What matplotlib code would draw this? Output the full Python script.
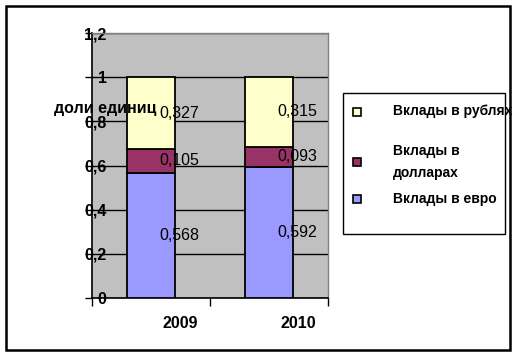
import matplotlib
matplotlib.use("Agg")
import matplotlib.pyplot as plt
from matplotlib.patches import Rectangle
import numpy as np

years = ["2009", "2010"]
series_names = ["Вклады в евро", "Вклады в\nдолларах", "Вклады в рублях"]
euro = [0.568, 0.592]
dollars = [0.105, 0.093]
rubles = [0.327, 0.315]
series_colors = ["#9999FF", "#993366", "#FFFFCC"]
ytick_vals = [0, 0.2, 0.4, 0.6, 0.8, 1.0, 1.2]
ytick_labels = ["0", "0,2", "0,4", "0,6", "0,8", "1", "1,2"]

W, H = 530, 356
plt.rcParams['font.family'] = ['Liberation Sans', 'DejaVu Sans']
fig = plt.figure(figsize=(W / 100, H / 100), dpi=100)
fig.patch.set_facecolor("white")

def fx(px):
    return px / W

def fy(py):
    return 1 - py / H

ax = fig.add_axes([fx(92), fy(298), fx(328) - fx(92), fy(33) - fy(298)])
ax.set_facecolor("#C0C0C0")
x = np.arange(len(years))
width = 0.41

bottoms = np.zeros(len(years))
all_series = [euro, dollars, rubles]
for vals, col in zip(all_series, series_colors):
    vals = np.array(vals)
    ax.bar(x, vals, width, bottom=bottoms, color=col, edgecolor="black",
           linewidth=1.3, zorder=3)
    for xi, b, v in zip(x, bottoms, vals):
        ax.text(xi + 0.24, b + v / 2, f"{v:.3f}".replace(".", ","),
                ha="center", va="center", fontsize=11.5, zorder=5)
    bottoms = bottoms + vals

ax.set_xlim(-0.5, 1.5)
ax.set_ylim(0, 1.2)
ax.set_yticks(ytick_vals)
ax.set_yticklabels(ytick_labels, fontsize=11.5, fontweight="bold")
ax.yaxis.grid(True, color="black", linewidth=1, zorder=1)
ax.set_axisbelow(True)
ax.tick_params(axis="y", length=5, width=1, pad=-15.5, direction="out")
for lbl in ax.get_yticklabels():
    lbl.set_horizontalalignment("right")

ax.set_xticks([-0.5, 0.5, 1.5])
ax.set_xticklabels(["", "", ""])
ax.set_xticks(x + 0.25, minor=True)
ax.set_xticklabels(years, minor=True, fontsize=11.5, fontweight="bold")
ax.tick_params(axis="x", which="major", length=6, width=1, direction="out")
ax.tick_params(axis="x", which="minor", length=0, pad=13)

for s in ["left", "bottom"]:
    ax.spines[s].set_color("black")
    ax.spines[s].set_linewidth(1.2)
for s in ["top", "right"]:
    ax.spines[s].set_color("#808080")
    ax.spines[s].set_linewidth(1)

fig.text(fx(54), fy(109), "доли единиц", fontsize=11.5, fontweight="bold",
         ha="left", va="center", zorder=10)

# legend
fig.patches.append(Rectangle((fx(343), fy(234)), fx(505) - fx(343), fy(93) - fy(234),
                             transform=fig.transFigure, facecolor="white",
                             edgecolor="black", linewidth=1, zorder=5))
leg_marker_y = [199, 162, 112]
leg_text_y = [199, 162, 111]
for name, col, my, ty in zip(series_names, series_colors, leg_marker_y, leg_text_y):
    fig.patches.append(Rectangle((fx(353), fy(my + 4)), fx(8), 8 / H,
                                 transform=fig.transFigure, facecolor=col,
                                 edgecolor="black", linewidth=1.2, zorder=6))
    fig.text(fx(393), fy(ty), name, fontsize=10, fontweight="bold",
             ha="left", va="center", linespacing=1.7, zorder=7)

# outer border
fig.patches.append(Rectangle((fx(6), fy(350)), fx(510) - fx(6), fy(6) - fy(350),
                             transform=fig.transFigure, facecolor="none",
                             edgecolor="black", linewidth=1.8, zorder=8))

fig.savefig("out.png", dpi=100)
